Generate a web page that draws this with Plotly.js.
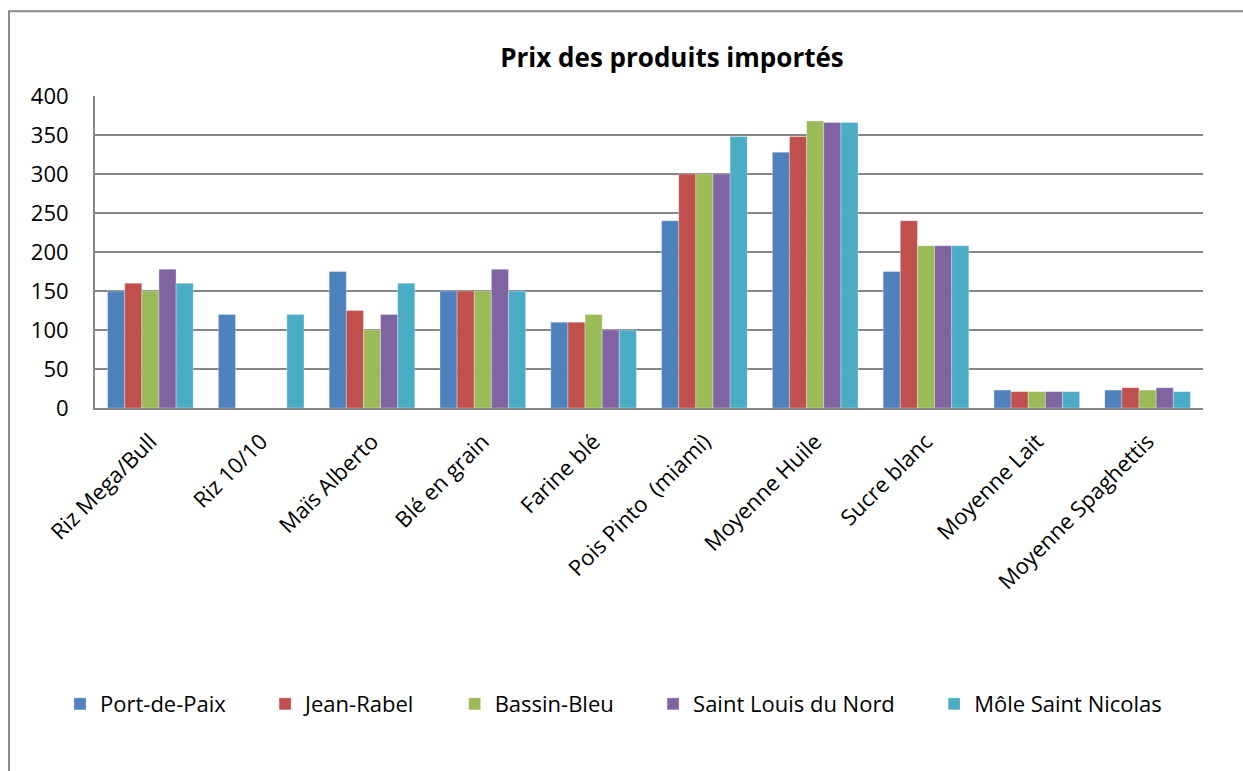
<!DOCTYPE html>
<html>
<head>
<meta charset="utf-8">
<script src="https://cdn.plot.ly/plotly-3.0.1.min.js"></script>
<style>
html,body{margin:0;padding:0;background:#fff;overflow:hidden;}
#chart{width:1243px;height:771px;}
</style>
</head>
<body>
<div id="chart"></div>
<script>
const categories = ["Riz Mega/Bull","Riz 10/10","Maïs Alberto","Blé en grain","Farine blé","Pois Pinto  (miami)","Moyenne Huile","Sucre blanc","Moyenne Lait","Moyenne Spaghettis"];
const seriesNames = ["Port-de-Paix","Jean-Rabel","Bassin-Bleu","Saint Louis du Nord","Môle Saint Nicolas"];
const portDePaix   = [150, 120, 175, 150, 110, 240, 328, 175, 23, 23];
const jeanRabel    = [160, null, 125, 150, 110, 300, 348, 240, 21, 26];
const bassinBleu   = [150, null, 100, 150, 120, 300, 368, 208, 21, 23];
const saintLouis   = [178, null, 120, 178, 100, 300, 366, 208, 21, 26];
const moleStNicolas= [160, 120, 160, 150, 100, 348, 366, 208, 21, 21];
const yTicks = [0, 50, 100, 150, 200, 250, 300, 350, 400];

const values = [portDePaix, jeanRabel, bassinBleu, saintLouis, moleStNicolas];
const colors = ["#4F81BD","#C0504D","#9BBB59","#8064A2","#4BACC6"];

const font = "Open Sans, Liberation Sans, sans-serif";
const pad = "\u00a0\u00a0\u00a0\u00a0\u00a0\u00a0";
const traces = seriesNames.map((n,i)=>({
  type:"bar", name: i < seriesNames.length-1 ? n + pad : n, x:categories, y:values[i],
  marker:{color:colors[i], line:{color:"rgba(255,255,255,0.5)", width:0.6}},
  hovertemplate: n + "<br>%{x}: %{y}<extra></extra>"
}));

const layout = {
  width:1243, height:771,
  margin:{l:95, r:40, t:96, b:363},
  paper_bgcolor:"#fff", plot_bgcolor:"#fff",
  barmode:"group", bargap:0.227, bargroupgap:0,
  title:{text:"<b>Prix des produits importés</b>", font:{family:font, size:26, color:"#000"},
         x:672/1243, xref:"container", xanchor:"center", y:1-58/771, yref:"container", yanchor:"middle"},
  xaxis:{type:"category", tickangle:-45, tickfont:{family:font, size:22, color:"#000"},
         showgrid:false, showline:true, linecolor:"#868686", linewidth:2, ticks:"", ticklabelstandoff:10,
         fixedrange:true},
  yaxis:{range:[0,400], tickvals:yTicks, ticktext:yTicks.map(String), tickfont:{family:font, size:22, color:"#000"},
         showgrid:true, gridcolor:"#868686", gridwidth:1.6, showline:true, linecolor:"#868686", linewidth:2,
         zeroline:false, ticks:"", ticklabelstandoff:20, fixedrange:true},
  showlegend:true,
  legend:{orientation:"h", x:(60-95)/1108, xanchor:"left", y:(408-705)/313, yanchor:"middle",
          font:{family:font, size:22, color:"#000"}, itemwidth:30, traceorder:"normal", bgcolor:"rgba(0,0,0,0)"},
  shapes:[{type:"rect", xref:"paper", yref:"paper", x0:(9-95)/1108, x1:(1260-95)/1108, y0:(408-800)/313, y1:(408-10)/313,
           line:{color:"#8c8c8c", width:2}, fillcolor:"rgba(0,0,0,0)", layer:"below"}]
};

Plotly.newPlot("chart", traces, layout, {displayModeBar:false, staticPlot:false});
</script>
</body>
</html>
